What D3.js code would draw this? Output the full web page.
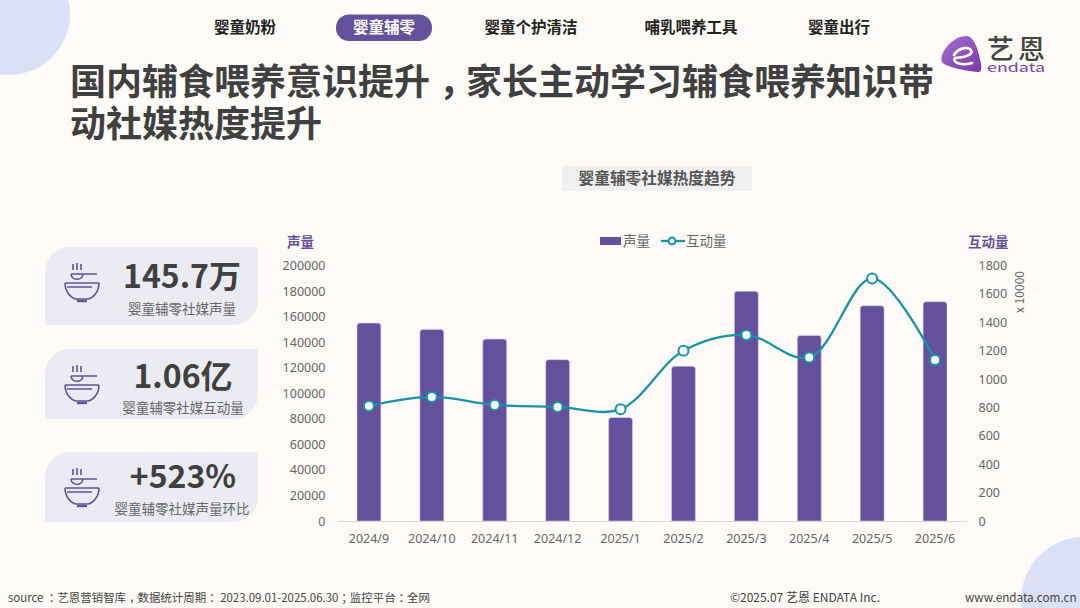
<!DOCTYPE html>
<html>
<head>
<meta charset="utf-8">
<script src="https://cdn.jsdelivr.net/npm/d3@7"></script>
<style>
html, body { margin: 0; padding: 0; background: #fefbf8; }
svg { display: block; }
text { font-family: "Noto Sans CJK SC", "Noto Sans", sans-serif; }
.tick text { font-family: "Noto Sans", "Noto Sans CJK SC", sans-serif; font-size: 12.5px; fill: #666; }
</style>
</head>
<body>
<div id="d3"></div>
<script>
const months = ["2024/9", "2024/10", "2024/11", "2024/12", "2025/1", "2025/2", "2025/3", "2025/4", "2025/5", "2025/6"]
const volume = [154900, 150000, 142400, 126300, 81000, 121100, 179900, 145300, 168500, 171600]
const interaction = [811, 874, 818, 804, 788, 1199, 1310, 1152, 1709, 1135]
const leftTicks = [0, 20000, 40000, 60000, 80000, 100000, 120000, 140000, 160000, 180000, 200000]
const rightTicks = [0, 200, 400, 600, 800, 1000, 1200, 1400, 1600, 1800]
const tabs = ["婴童奶粉", "婴童辅零", "婴童个护清洁", "哺乳喂养工具", "婴童出行"]
const activeTab = "婴童辅零"
const titleLines = ["国内辅食喂养意识提升，家长主动学习辅食喂养知识带", "动社媒热度提升"]
const cardValues = ["145.7万", "1.06亿", "+523%"]
const cardLabels = ["婴童辅零社媒声量", "婴童辅零社媒互动量", "婴童辅零社媒声量环比"]
const sourceText = "source ：艺恩营销智库，数据统计周期： 2023.09.01-2025.06.30；监控平台：全网"

const purple = "#65509c"
const teal = "#1893a8"
const grey = "#666"

// the reference centres its full-width punctuation in the cell:
// half-width glyph ("halt") with a quarter em of space on each side
const addPunctText = (sel, str) => {
    let shiftNext = false
    str.split(/([，；：])/).forEach(part => {
        const isPunct = /[，；：]/.test(part)
        const span = sel.append("tspan").text(part)
        if (isPunct) span.attr("dx", "0.25em").style("font-feature-settings", '"halt"')
        else if (shiftNext) span.attr("dx", "0.25em")
        shiftNext = isPunct
    })
}

const svg = d3.select("#d3").append("svg")
    .attr("width", 1080)
    .attr("height", 608)

svg.append("rect").attr("width", 1080).attr("height", 608).attr("fill", "#fefbf8")

// background circles
svg.append("circle").attr("cx", 9).attr("cy", 14).attr("r", 61).attr("fill", "#dae1f6")
svg.append("circle").attr("cx", 1084).attr("cy", 600).attr("r", 63).attr("fill", "#dae1f6")

// nav tabs
const tabX = [245, 384, 531, 691, 839]
svg.append("rect")
    .attr("x", 336).attr("y", 14.5).attr("width", 96).attr("height", 26.5).attr("rx", 13)
    .attr("fill", purple)
svg.selectAll(".tab")
    .data(tabs)
    .enter()
    .append("text")
    .attr("class", "tab")
    .attr("x", (d, i) => tabX[i])
    .attr("y", 33)
    .attr("text-anchor", "middle")
    .attr("font-size", 15.5)
    .attr("font-weight", 700)
    .attr("fill", d => d === activeTab ? "#fff" : "#222")
    .text(d => d)

// title
svg.selectAll(".title")
    .data(titleLines)
    .enter()
    .append("text")
    .attr("class", "title")
    .attr("x", 70)
    .attr("y", (d, i) => 95 + i * 42)
    .attr("font-size", 36)
    .attr("font-weight", 700)
    .attr("fill", "#404040")
    .each(function(d) { addPunctText(d3.select(this), d) })

// logo
const defs = svg.append("defs")
const logoGrad = defs.append("linearGradient").attr("id", "logoGrad")
    .attr("x1", 0).attr("y1", 0).attr("x2", 1).attr("y2", 1)
logoGrad.append("stop").attr("offset", "0%").attr("stop-color", "#a56fd0")
logoGrad.append("stop").attr("offset", "100%").attr("stop-color", "#7a3aa6")
const logo = svg.append("g").attr("transform", "translate(941,35)")
logo.append("path")
    .attr("d", "M1,20 C5,10 15,1 25,1 C31,1 35,8 38,20 C40,28 42,36 38,37 C30,37 10,33 3,29 C0,27 0,24 1,20 Z")
    .attr("fill", "url(#logoGrad)")
logo.append("path")
    .attr("d", "M13,20 C17,13 27,11 30,15 C32,19 27,22 14,23 C11,28 21,31 31,28")
    .attr("fill", "none").attr("stroke", "#fff").attr("stroke-width", 2.6).attr("stroke-linecap", "round")
logo.append("text").attr("x", 46).attr("y", 24).attr("font-size", 27).attr("font-weight", 500).attr("letter-spacing", 4).attr("fill", "#444").text("艺恩")
logo.append("text").attr("x", 46).attr("y", 37).attr("font-size", 12).attr("font-family", "Lato")
    .attr("textLength", 58).attr("lengthAdjust", "spacingAndGlyphs").attr("fill", "#7d3fa8").text("endata")

// chart title
svg.append("rect").attr("x", 562).attr("y", 166).attr("width", 190).attr("height", 25).attr("fill", "#f0f0f0")
svg.append("text")
    .attr("x", 657).attr("y", 184)
    .attr("text-anchor", "middle")
    .attr("font-size", 15.7).attr("font-weight", 700).attr("fill", "#555")
    .text("婴童辅零社媒热度趋势")

// cards
const cardY = [[247, 325, 276, 309], [349, 419, 376, 408], [452, 522, 476, 509]]
const valueX = [182, 183, 183]
const labelX = [182, 183, 182]
const cards = svg.selectAll(".card")
    .data(cardValues)
    .enter()
    .append("g")
    .attr("class", "card")
cards.append("path")
    .attr("d", (d, i) => {
        const [top, bottom] = cardY[i]
        return `M45,${bottom} V${top + 25} A25,25 0 0 1 70,${top} H258 V${bottom - 25} A25,25 0 0 1 233,${bottom} Z`
    })
    .attr("fill", "#ebebf3")
cards.append("text")
    .attr("x", (d, i) => valueX[i])
    .attr("y", (d, i) => cardY[i][2] + 12)
    .attr("text-anchor", "middle")
    .attr("font-size", 32)
    .attr("font-weight", 700)
    .attr("font-family", "'Noto Sans', 'Noto Sans CJK SC'")
    .attr("fill", "#404040")
    .text(d => d)
cards.append("text")
    .data(cardLabels)
    .attr("x", (d, i) => labelX[i])
    .attr("y", (d, i) => cardY[i][3] + 5)
    .attr("text-anchor", "middle")
    .attr("font-size", 13.5)
    .attr("fill", "#666")
    .text(d => d)

// bowl icons
const bowlY = [263, 365, 468]
const bowls = svg.selectAll(".bowl")
    .data(bowlY)
    .enter()
    .append("g")
    .attr("class", "bowl")
    .attr("transform", d => "translate(64," + d + ")")
    .attr("fill", "none")
    .attr("stroke", purple)
    .attr("stroke-width", 1.6)
bowls.append("path").attr("d", "M9,1 V7 M13,0 V7 M17,1 V7")
bowls.append("path").attr("d", "M7,11 H33 M7,11 C8,18 18,18 19,11")
bowls.append("path").attr("d", "M1,20 H35 M1,20 C1,29 7,35 12,36 H24 C29,35 35,29 35,20 M3,24 H28")
bowls.append("path").attr("d", "M13,38 H23").attr("stroke-width", 2.4)

// chart
const margin = {top: 265.5, right: 113.5, bottom: 87, left: 337.5}
const width = 1080 - margin.left - margin.right
const height = 608 - margin.top - margin.bottom
const x = d3.scaleBand()
    .domain(months)
    .range([0, width])
    .paddingInner(0.62)
    .paddingOuter(0.31)
const y = d3.scaleLinear().domain([0, 200000]).range([height, 0])
const y2 = d3.scaleLinear().domain([0, 1800]).range([height, 0])
const chart = svg.append("g")
    .attr("transform", "translate(" + margin.left + "," + margin.top + ")")

chart.append("g")
    .call(d3.axisLeft(y).tickValues(leftTicks).tickFormat(d3.format("d")).tickSize(0).tickPadding(12))
    .call(g => g.select(".domain").remove())
chart.append("g")
    .attr("transform", "translate(" + width + ",0)")
    .call(d3.axisRight(y2).tickValues(rightTicks).tickFormat(d3.format("d")).tickSize(0).tickPadding(12))
    .call(g => g.select(".domain").remove())

const barRadius = 3
chart.selectAll(".bar")
    .data(volume)
    .enter()
    .append("path")
    .attr("class", "bar")
    .attr("d", (d, i) => {
        const left = x(months[i]), w = x.bandwidth(), top = y(d)
        return `M${left},${height} V${top + barRadius} Q${left},${top} ${left + barRadius},${top} H${left + w - barRadius} Q${left + w},${top} ${left + w},${top + barRadius} V${height} Z`
    })
    .attr("fill", purple)
    .attr("stroke", "#d9d2e8")
    .attr("stroke-width", 0.6)

chart.append("g")
    .attr("transform", "translate(0," + height + ")")
    .call(d3.axisBottom(x).tickSize(0).tickPadding(13))
    .call(g => g.select(".domain").attr("stroke", "#d9d9d9").attr("stroke-width", 1.2))

const cx = i => x(months[i]) + x.bandwidth() / 2
const line = d3.line()
    .x((d, i) => cx(i))
    .y(d => y2(d))
    .curve(d3.curveCatmullRom.alpha(0.5))
chart.append("path")
    .datum(interaction)
    .attr("d", line)
    .attr("fill", "none")
    .attr("stroke", teal)
    .attr("stroke-width", 2.3)
chart.selectAll(".dot")
    .data(interaction)
    .enter()
    .append("circle")
    .attr("class", "dot")
    .attr("cx", (d, i) => cx(i))
    .attr("cy", d => y2(d))
    .attr("r", 5)
    .attr("fill", "#fff")
    .attr("stroke", teal)
    .attr("stroke-width", 2)

// axis titles
svg.append("text").attr("x", 287).attr("y", 247).attr("font-size", 13.5).attr("font-weight", 700).attr("fill", purple).text("声量")
svg.append("text").attr("x", 968).attr("y", 247).attr("font-size", 13.5).attr("font-weight", 700).attr("fill", purple).text("互动量")
svg.append("text")
    .attr("transform", "translate(1024,292) rotate(-90)")
    .attr("text-anchor", "middle")
    .attr("font-family", "'Noto Sans'")
    .attr("font-size", 12)
    .attr("fill", grey)
    .text("x 10000")

// legend
svg.append("rect").attr("x", 600).attr("y", 237).attr("width", 21).attr("height", 8).attr("fill", purple)
svg.append("text").attr("x", 623).attr("y", 246).attr("font-size", 13.5).attr("fill", grey).text("声量")
svg.append("line").attr("x1", 661).attr("x2", 685).attr("y1", 241).attr("y2", 241).attr("stroke", teal).attr("stroke-width", 2.3)
svg.append("circle").attr("cx", 672).attr("cy", 241).attr("r", 3.4).attr("fill", "#fff").attr("stroke", teal).attr("stroke-width", 2)
svg.append("text").attr("x", 686).attr("y", 246).attr("font-size", 13.5).attr("fill", grey).text("互动量")

// footer
svg.append("text").attr("x", 8).attr("y", 602).attr("font-size", 11.45).attr("fill", "#444")
    .each(function() { addPunctText(d3.select(this), sourceText) })
svg.append("text").attr("x", 730).attr("y", 602).attr("font-size", 12).attr("fill", "#444")
    .text("©2025.07  艺恩 ENDATA Inc.")
svg.append("text").attr("x", 965).attr("y", 602).attr("font-size", 11.7).attr("fill", "#444")
    .text("www.endata.com.cn")
</script>
</body>
</html>
